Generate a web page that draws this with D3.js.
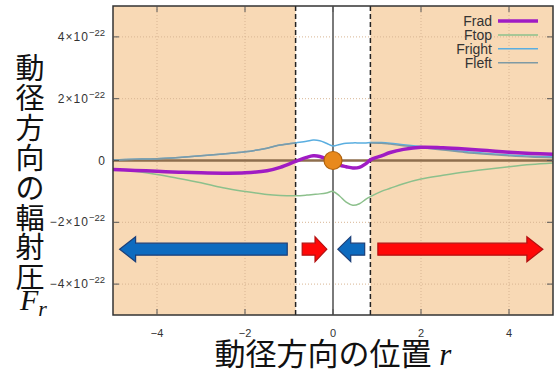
<!DOCTYPE html>
<html>
<head>
<meta charset="utf-8">
<script src="https://cdn.jsdelivr.net/npm/d3@7"></script>
<style>
  body { margin: 0; background: #fff; }
  svg { display: block; }
</style>
</head>
<body>
<div id="chart"></div>
<script>
// radial position r
var rPos = [-5, -4.5, -4, -3.5, -3, -2.5, -2, -1.5, -1.2, -0.85, -0.6, -0.45, -0.3, -0.15, 0,
            0.15, 0.3, 0.45, 0.6, 0.75, 0.85, 1.1, 1.3, 1.6, 2, 2.5, 3, 3.5, 4, 4.5, 5];
// forces in units of 1e-22
var fRad = [-0.29, -0.32, -0.35, -0.38, -0.4, -0.41, -0.4, -0.33, -0.22, -0.03, 0.1, 0.15, 0.13, 0.05, -0.05,
            -0.15, -0.2, -0.24, -0.22, -0.1, 0.02, 0.15, 0.26, 0.36, 0.43, 0.41, 0.37, 0.32, 0.27, 0.23, 0.2];
var fTop = [-0.28, -0.35, -0.45, -0.58, -0.72, -0.88, -1.0, -1.1, -1.13, -1.14, -1.12, -1.1, -1.08, -1.05, -1.0,
            -1.15, -1.35, -1.45, -1.4, -1.25, -1.17, -1.0, -0.9, -0.75, -0.6, -0.48, -0.37, -0.28, -0.2, -0.13, -0.08];
var fRight = [0.02, 0.04, 0.06, 0.1, 0.15, 0.21, 0.28, 0.4, 0.5, 0.57, 0.62, 0.66, 0.64, 0.56, 0.47,
              0.52, 0.56, 0.57, 0.57, 0.57, 0.58, 0.58, 0.56, 0.51, 0.45, 0.37, 0.29, 0.23, 0.18, 0.14, 0.12];
var fLeft = [0.02, 0.04, 0.06, 0.1, 0.15, 0.21, 0.28, 0.4, 0.5, 0.57, null, null, null, null, null,
             null, null, null, null, null, 0.57, 0.56, 0.53, 0.48, 0.42, 0.34, 0.26, 0.2, 0.15, 0.11, 0.09];

var seriesNames = ["Frad", "Ftop", "Fright", "Fleft"];
var seriesColors = ["#a01cc4", "#8cc08c", "#5aaee0", "#7f9aa4"];
var seriesWidths = [3.5, 1.5, 1.5, 1.5];

var xTicks = [-4, -2, 0, 2, 4];
var yTicks = [-4, -2, 0, 2, 4];
var yExp = "\u221222";
var boundaryR = [-0.85, 0.85];

// arrows: start (tail) and end (tip) in r, at force level arrowY
var arrowFrom = [-1.04, -0.7, 0.72, 1.02];
var arrowTo = [-4.85, -0.14, 0.11, 4.77];
var arrowY = -2.87;

var width = 558, height = 372;
var pLeft = 113, pRight = 553, pTop = 6, pBottom = 315;

var svg = d3.select("#chart").append("svg")
    .attr("width", width)
    .attr("height", height);

var x = d3.scaleLinear().domain([-5, 5]).range([pLeft, pRight]);
var y = d3.scaleLinear().domain([-5, 5]).range([pBottom, pTop]);

// background
svg.append("rect")
    .attr("x", pLeft).attr("y", pTop)
    .attr("width", pRight - pLeft).attr("height", pBottom - pTop)
    .attr("fill", "#f8d9b5");

svg.append("rect")
    .attr("x", x(boundaryR[0])).attr("y", pTop)
    .attr("width", x(boundaryR[1]) - x(boundaryR[0])).attr("height", pBottom - pTop)
    .attr("fill", "#ffffff");

// dotted grid
var grid = svg.append("g").attr("stroke", "#d8b593").attr("stroke-dasharray", "1,2").attr("stroke-width", 1);
xTicks.forEach(function (t) {
    if (t === 0) return;
    grid.append("line").attr("x1", x(t)).attr("x2", x(t)).attr("y1", pTop).attr("y2", pBottom);
});
yTicks.forEach(function (t) {
    if (t === 0) return;
    grid.append("line").attr("x1", pLeft).attr("x2", pRight).attr("y1", y(t)).attr("y2", y(t));
});

// zero lines
svg.append("line")
    .attr("x1", x(0)).attr("x2", x(0)).attr("y1", pTop).attr("y2", pBottom)
    .attr("stroke", "#7a7a7a").attr("stroke-width", 2);
svg.append("line")
    .attr("x1", pLeft).attr("x2", pRight).attr("y1", y(0)).attr("y2", y(0))
    .attr("stroke", "#8e6e4e").attr("stroke-width", 2.5);

// boundary dashed lines
boundaryR.forEach(function (b) {
    svg.append("line")
        .attr("x1", x(b)).attr("x2", x(b)).attr("y1", pTop).attr("y2", pBottom)
        .attr("stroke", "#222").attr("stroke-width", 1.5)
        .attr("stroke-dasharray", "5,3");
});

// curves
var allSeries = [fRad, fTop, fRight, fLeft];
var drawOrder = [1, 2, 3, 0];
drawOrder.forEach(function (i) {
    var pts = rPos.map(function (r, j) { return [r, allSeries[i][j]]; });
    var line = d3.line()
        .defined(function (d) { return d[1] !== null; })
        .x(function (d) { return x(d[0]); })
        .y(function (d) { return y(d[1]); })
        .curve(d3.curveCatmullRom.alpha(0.5));
    svg.append("path")
        .attr("d", line(pts))
        .attr("fill", "none")
        .attr("stroke", seriesColors[i])
        .attr("stroke-width", seriesWidths[i])
        .attr("stroke-linejoin", "round");
});

// orange dot at centre
svg.append("circle")
    .attr("cx", x(0)).attr("cy", y(0)).attr("r", 9)
    .attr("fill", "#e8891c").attr("stroke", "#b0620c").attr("stroke-width", 1.2);

// arrows
arrowFrom.forEach(function (a, i) {
    var x0 = x(a), x1 = x(arrowTo[i]), yy = y(arrowY);
    var dir = x1 > x0 ? 1 : -1;
    var len = Math.abs(x1 - x0);
    var head = Math.min(16, len * 0.48);
    var bh = 6, hh = 12.5;
    var xb = x1 - dir * head;
    var p = [[x0, yy - bh], [xb, yy - bh], [xb, yy - hh], [x1, yy], [xb, yy + hh], [xb, yy + bh], [x0, yy + bh]];
    var blue = dir < 0;
    svg.append("path")
        .attr("d", "M" + p.join("L") + "Z")
        .attr("fill", blue ? "#0d6bbf" : "#ff0808")
        .attr("stroke", blue ? "#1c3f78" : "#b41010")
        .attr("stroke-width", 1.2);
});

// frame
svg.append("rect")
    .attr("x", pLeft).attr("y", pTop)
    .attr("width", pRight - pLeft).attr("height", pBottom - pTop)
    .attr("fill", "none").attr("stroke", "#333").attr("stroke-width", 1.5);

// ticks on all sides
var tk = svg.append("g").attr("stroke", "#555").attr("stroke-width", 1);
xTicks.forEach(function (t) {
    tk.append("line").attr("x1", x(t)).attr("x2", x(t)).attr("y1", pBottom).attr("y2", pBottom - 6);
    tk.append("line").attr("x1", x(t)).attr("x2", x(t)).attr("y1", pTop).attr("y2", pTop + 6);
});
yTicks.forEach(function (t) {
    tk.append("line").attr("x1", pLeft).attr("x2", pLeft + 6).attr("y1", y(t)).attr("y2", y(t));
    tk.append("line").attr("x1", pRight).attr("x2", pRight - 6).attr("y1", y(t)).attr("y2", y(t));
});

// x tick labels
svg.append("g").selectAll("text")
    .data(xTicks).enter().append("text")
    .attr("x", function (d) { return x(d); })
    .attr("y", 337)
    .attr("text-anchor", "middle")
    .attr("font-family", "Liberation Sans, sans-serif")
    .attr("font-size", 11)
    .attr("fill", "#333")
    .text(function (d) { return d < 0 ? "\u2212" + Math.abs(d) : d; });

// y tick labels
yTicks.forEach(function (t) {
    var txt = svg.append("text")
        .attr("x", 105)
        .attr("y", y(t) + 4)
        .attr("text-anchor", "end")
        .attr("font-family", "Liberation Sans, sans-serif")
        .attr("font-size", 12)
        .attr("fill", "#333");
    if (t === 0) {
        txt.text("0");
    } else {
        txt.append("tspan").attr("letter-spacing", 1)
            .text((t < 0 ? "\u2212" : "") + Math.abs(t) + "\u00d710");
        txt.append("tspan").attr("dy", -5).attr("font-size", 9.5).text(yExp);
    }
});

// legend
var lg = svg.append("g");
seriesNames.forEach(function (n, i) {
    var ly = 21 + i * 13.9;
    lg.append("text")
        .attr("x", 492).attr("y", ly + 5)
        .attr("text-anchor", "end")
        .attr("font-family", "Liberation Sans, sans-serif")
        .attr("font-size", 14)
        .attr("fill", "#333")
        .text(n);
    lg.append("line")
        .attr("x1", 498).attr("x2", 538).attr("y1", ly).attr("y2", ly)
        .attr("stroke", seriesColors[i]).attr("stroke-width", seriesWidths[i]);
});

// y axis title (vertical)
var yTitle = "動径方向の輻射圧".split("");
yTitle.forEach(function (c, i) {
    svg.append("text")
        .attr("x", 30)
        .attr("y", 66 + i * 29.9)
        .attr("text-anchor", "middle")
        .attr("dominant-baseline", "central")
        .attr("font-family", "Noto Sans CJK JP, sans-serif")
        .attr("font-size", 29)
        .attr("fill", "#111")
        .text(c);
});
var fr = svg.append("text")
    .attr("x", 20).attr("y", 310)
    .attr("font-family", "Liberation Serif, serif")
    .attr("font-style", "italic")
    .attr("font-size", 30)
    .attr("fill", "#111");
fr.append("tspan").text("F");
fr.append("tspan").attr("dy", 6).attr("font-size", 22).text("r");

// x axis title
var xt = svg.append("text")
    .attr("x", 333).attr("y", 365)
    .attr("text-anchor", "middle")
    .attr("font-family", "Noto Sans CJK JP, sans-serif")
    .attr("font-size", 31)
    .attr("fill", "#111");
xt.append("tspan").text("動径方向の位置");
xt.append("tspan").attr("font-family", "Liberation Serif, serif").attr("font-style", "italic").text(" r");
</script>
</body>
</html>
